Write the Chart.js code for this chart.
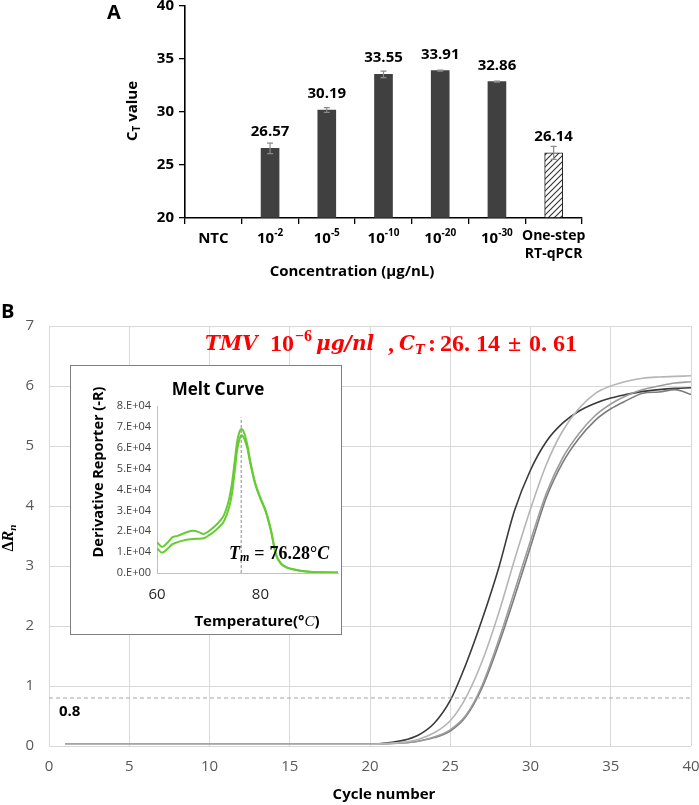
<!DOCTYPE html>
<html><head><meta charset="utf-8">
<script src="https://cdn.jsdelivr.net/npm/chart.js@4.4.0/dist/chart.umd.min.js"></script>
<style>
html,body{margin:0;padding:0;background:#fff;}
body{width:699px;height:805px;position:relative;overflow:hidden;}
#wrapA{position:absolute;left:0;top:-20px;width:699px;height:320px;}
#wrapB{position:absolute;left:0;top:300px;width:699px;height:505px;}
#wrapM{position:absolute;left:70px;top:365px;width:270px;height:268px;border:1.5px solid #7f7f7f;background:#fff;}
</style></head><body>
<div id="wrapA"><canvas id="cA"></canvas></div>
<div id="wrapB"><canvas id="cB"></canvas></div>
<div id="wrapM"><canvas id="cM"></canvas></div>
<script>
// ---------- DATA ----------
// Panel A
const categories = ['NTC', '10⁻²', '10⁻⁵', '10⁻¹⁰', '10⁻²⁰', '10⁻³⁰', 'One-step RT-qPCR'];
const catBase  = ['NTC', '10', '10', '10', '10', '10', 'One-step'];
const catSup   = ['', '-2', '-5', '-10', '-20', '-30', ''];
const catLine2 = ['', '', '', '', '', '', 'RT-qPCR'];
const ctValues = [null, 26.57, 30.19, 33.55, 33.91, 32.86, 26.14];
const ctErrors = [0, 0.5, 0.22, 0.3, 0.05, 0.05, 0.61];
const yMinA = 20, yMaxA = 40, yStepA = 5;

// Panel B (amplification)
const cycles = [1,2,3,4,5,6,7,8,9,10,11,12,13,14,15,16,17,18,19,20,21,22,23,24,25,26,27,28,29,30,31,32,33,34,35,36,37,38,39,40];
const rnDark  = [0.03,0.03,0.03,0.03,0.03,0.03,0.03,0.03,0.03,0.03,0.03,0.03,0.03,0.03,0.03,0.03,0.03,0.03,0.03,0.03,0.05,0.09,0.18,0.38,0.76,1.38,2.12,2.95,3.92,4.60,5.08,5.38,5.58,5.71,5.80,5.86,5.91,5.94,5.96,5.97];
const rnLight = [0.03,0.03,0.03,0.03,0.03,0.03,0.03,0.03,0.03,0.03,0.03,0.03,0.03,0.03,0.03,0.03,0.03,0.03,0.03,0.03,0.04,0.06,0.11,0.22,0.42,0.82,1.42,2.20,3.10,3.95,4.70,5.25,5.62,5.87,6.00,6.08,6.13,6.15,6.16,6.17];
const rnMid   = [0.03,0.03,0.03,0.03,0.03,0.03,0.03,0.03,0.03,0.03,0.03,0.03,0.03,0.03,0.03,0.03,0.03,0.03,0.03,0.03,0.04,0.05,0.08,0.15,0.27,0.52,1.02,1.75,2.58,3.42,4.22,4.80,5.20,5.50,5.70,5.84,5.94,6.00,6.05,6.07];
const rnGray  = [0.03,0.03,0.03,0.03,0.03,0.03,0.03,0.03,0.03,0.03,0.03,0.03,0.03,0.03,0.03,0.03,0.03,0.03,0.03,0.03,0.04,0.05,0.08,0.14,0.25,0.50,0.98,1.68,2.48,3.32,4.15,4.72,5.12,5.42,5.62,5.76,5.88,5.90,5.94,5.86];
const thresholdValue = 0.8;
const xMinB = 0, xMaxB = 40, xStepB = 5, yMinB = 0, yMaxB = 7, yStepB = 1;

// Inset (melt curve)
const meltTemps = [60,61,62,63,64,65,66,67,68,69,70,71,72,73,74,74.5,75,75.5,76,76.3,76.6,77,77.5,78,79,80,81,82,83,84,85,86,88,90,92,95];
const meltUpper = [14700,12500,14500,17200,17800,18800,19800,20200,19700,18700,20000,22000,24500,28000,36000,43000,53000,63000,68000,69000,68500,66000,61000,54000,43000,36000,30000,21000,9000,4500,2800,2000,1000,500,300,200];
const meltLower = [11800,9700,11500,13800,14800,15500,16000,16300,16400,16600,18000,19800,22000,25000,32000,38000,48000,59000,64500,66000,65500,63500,59500,53000,42500,35500,29500,20500,8800,4400,2700,1900,1000,500,300,200];
const tmValue = 76.28;
const meltXMin = 60, meltXMax = 95, meltYMax = 80000;

// ---------- STYLE ----------
const FONT = "'Open Sans', sans-serif";
const MATH = "'Liberation Serif', serif";
const CMATH = "'DejaVu Serif', serif";
Chart.defaults.font.family = FONT;

function runsWidth(ctx, runs){ let w=0; for(const r of runs){ ctx.font=r.font; w+=ctx.measureText(r.t).width+(r.gap||0);} return w; }
function drawRuns(ctx, x, y, runs){ for(const r of runs){ ctx.font=r.font; ctx.fillStyle=r.color||'#000'; ctx.fillText(r.t, (r.x!==undefined? r.x : x), y+(r.dy||0)); x=(r.x!==undefined? r.x : x)+ctx.measureText(r.t).width+(r.gap||0);} return x; }
function drawRunsCentered(ctx, cx, y, runs){ const w=runsWidth(ctx,runs); ctx.textAlign='left'; drawRuns(ctx, cx-w/2, y, runs); }

// ---------- PANEL A ----------
const ctxA = document.getElementById('cA').getContext('2d');
function hatchPattern(){
  const c=document.createElement('canvas'); c.width=6; c.height=6;
  const g=c.getContext('2d'); g.fillStyle='#fff'; g.fillRect(0,0,6,6);
  g.strokeStyle='#333'; g.lineWidth=1.1; g.beginPath();
  g.moveTo(0,6); g.lineTo(6,0); g.moveTo(-1,1); g.lineTo(1,-1); g.moveTo(5,7); g.lineTo(7,5); g.stroke();
  return ctxA.createPattern(c,'repeat');
}
const hatch = hatchPattern();
const plugA = {
  id:'plugA',
  afterDatasetsDraw(chart){
    const {ctx, scales:{x,y}} = chart;
    ctx.save();
    ctValues.forEach((v,i)=>{
      if(v==null) return;
      const e=ctErrors[i], px=x.getPixelForValue(i);
      const t=y.getPixelForValue(v+e), b=y.getPixelForValue(v-e);
      ctx.strokeStyle='#8a8a8a'; ctx.lineWidth=1.2; ctx.beginPath();
      ctx.moveTo(px,t); ctx.lineTo(px,b);
      ctx.moveTo(px-3,t); ctx.lineTo(px+3,t);
      ctx.moveTo(px-3,b); ctx.lineTo(px+3,b); ctx.stroke();
      ctx.fillStyle='#000'; ctx.font='bold 15px '+FONT; ctx.textAlign='center'; ctx.textBaseline='alphabetic';
      ctx.fillText(v.toFixed(2), px, y.getPixelForValue(v)-12);
    });
    // category labels
    ctx.textBaseline='middle';
    const ly = y.bottom + 21;
    categories.forEach((c,i)=>{
      const px=x.getPixelForValue(i);
      if(catLine2[i]){
        ctx.font='bold 14px '+FONT; ctx.textAlign='center';
        ctx.fillText(catBase[i], px, ly-3); ctx.fillText(catLine2[i], px, ly+15);
      } else if(catSup[i]){
        drawRunsCentered(ctx, px, ly, [{t:catBase[i], font:'bold 15px '+FONT},{t:catSup[i], font:'bold 10px '+FONT, dy:-6}]);
      } else {
        ctx.font='bold 15px '+FONT; ctx.textAlign='center'; ctx.fillText(catBase[i], px, ly);
      }
    });
    // x title
    ctx.font='bold 15px '+FONT; ctx.textAlign='center'; ctx.textBaseline='middle';
    ctx.fillText('Concentration (μg/nL)', 352, y.bottom+54);
    // y title
    ctx.save(); ctx.translate(133, 131); ctx.rotate(-Math.PI/2); ctx.textBaseline='middle';
    drawRunsCentered(ctx, 0, 0, [{t:'C', font:'bold 15px '+FONT},{t:'T', font:'bold 10px '+FONT, dy:4},{t:' value', font:'bold 15px '+FONT}]);
    ctx.restore();
    // panel letter
    ctx.font='bold 20px '+FONT; ctx.textAlign='left'; ctx.textBaseline='middle';
    ctx.fillText('A', 107, 33);
    ctx.restore();
  }
};
new Chart(ctxA, {
  type:'bar',
  data:{ labels:categories, datasets:[{
    data:ctValues, base:yMinA,
    backgroundColor: ctValues.map((v,i)=> i===ctValues.length-1 ? hatch : '#404040'),
    borderColor: ctValues.map((v,i)=> i===ctValues.length-1 ? '#222' : '#404040'),
    borderWidth: ctValues.map((v,i)=> i===ctValues.length-1 ? 1 : 0),
    barThickness:18
  }]},
  options:{
    responsive:true, maintainAspectRatio:false, animation:false,
    layout:{padding:{left:125, right:117, top:26, bottom:22}},
    plugins:{legend:{display:false}, tooltip:{enabled:false}},
    scales:{
      x:{ grid:{drawOnChartArea:false, drawTicks:true, tickLength:6, color:'#000', lineWidth:1.3, offset:true},
          border:{color:'#000', width:1.6}, ticks:{display:false}, afterFit(s){ s.height=60; } },
      y:{ min:yMinA, max:yMaxA, ticks:{stepSize:yStepA, color:'#000', font:{size:15, weight:'bold'}, padding:5},
          grid:{drawOnChartArea:false, tickLength:6, color:'#000', lineWidth:1.3},
          border:{color:'#000', width:1.6}, afterFit(s){ s.width=60; } }
    }
  },
  plugins:[plugA]
});

// ---------- PANEL B ----------
const plugB = {
  id:'plugB',
  afterDraw(chart){
    const {ctx, chartArea, scales:{x,y}} = chart;
    ctx.save();
    ctx.fillStyle='#000'; ctx.textBaseline='middle';
    ctx.font='bold 20px '+FONT; ctx.textAlign='left'; ctx.fillText('B', 1, 12);
    // threshold label
    ctx.font='bold 15px '+FONT; ctx.fillText(String(thresholdValue), 59, y.getPixelForValue(thresholdValue)+14);
    // x title
    ctx.textAlign='center'; ctx.fillText('Cycle number', 384, 495);
    // y title
    ctx.save(); ctx.translate(9, 238); ctx.rotate(-Math.PI/2); ctx.textBaseline='middle';
    drawRunsCentered(ctx, 0, 0, [{t:'Δ', font:'bold 16px '+MATH},{t:'R', font:'bold italic 16px '+MATH},{t:'n', font:'bold italic 11px '+MATH, dy:4}]);
    ctx.restore();
    // red title
    const red='#ff0000', fi='bold italic 20px '+CMATH, fsi='bold italic 13px '+CMATH,
          fn='bold 24px '+MATH, fsn='bold 16px '+MATH;
    ctx.textAlign='left'; ctx.textBaseline='middle';
    drawRuns(ctx, 205, 45, [
      {t:'TMV', font:fi, color:red, x:205},
      {t:'10', font:fn, color:red, x:270},
      {t:'−6', font:fsn, color:red, dy:-8, x:295},
      {t:'μg/nl', font:fi, color:red, x:316},
      {t:',', font:fn, color:red, x:388},
      {t:'C', font:fi, color:red, x:399},
      {t:'T', font:fsi, color:red, dy:6, x:415},
      {t:':', font:fn, color:red, x:428},
      {t:'26.', font:fn, color:red, x:440},
      {t:'14', font:fn, color:red, x:476},
      {t:'±', font:fn, color:red, x:508},
      {t:'0.', font:fn, color:red, x:529},
      {t:'61', font:fn, color:red, x:553}
    ]);
    ctx.restore();
  }
};
const pts = arr => cycles.map((c,i)=>({x:c, y:arr[i]}));
const lineDS = (arr,color)=>({data:pts(arr), borderColor:color, borderWidth:1.6, pointRadius:0, fill:false, cubicInterpolationMode:'monotone'});
new Chart(document.getElementById('cB'), {
  type:'line',
  data:{ datasets:[
    {data:[{x:xMinB,y:thresholdValue},{x:xMaxB,y:thresholdValue}], borderColor:'#a6a6a6', borderWidth:1.2, borderDash:[4,3], pointRadius:0},
    lineDS(rnLight,'#b5b5b5'),
    lineDS(rnMid,'#9c9c9c'),
    lineDS(rnGray,'#7c7c7c'),
    lineDS(rnDark,'#3a3a3a')
  ]},
  options:{
    responsive:true, maintainAspectRatio:false, animation:false,
    layout:{padding:{left:0, right:8, top:26, bottom:0}},
    plugins:{legend:{display:false}, tooltip:{enabled:false}},
    scales:{
      x:{ type:'linear', min:xMinB, max:xMaxB, ticks:{stepSize:xStepB, color:'#595959', font:{size:15}, padding:12},
          grid:{color:'#d9d9d9', drawTicks:false}, border:{display:false},
          afterFit(s){ s.height=59; s.paddingRight=0; s.paddingLeft=0; } },
      y:{ min:yMinB, max:yMaxB, ticks:{stepSize:yStepB, color:'#595959', font:{size:15}, padding:15},
          grid:{color:'#d9d9d9', drawTicks:false}, border:{display:false}, afterFit(s){ s.width=49; } }
    }
  },
  plugins:[plugB]
});

// ---------- INSET ----------
const plugM = {
  id:'plugM',
  afterDraw(chart){
    const {ctx} = chart;
    ctx.save(); ctx.fillStyle='#000'; ctx.textBaseline='middle'; ctx.textAlign='center';
    ctx.font='bold 17px '+FONT; ctx.fillText('Melt Curve', 147, 24);
    ctx.save(); ctx.translate(28, 106); ctx.rotate(-Math.PI/2);
    ctx.font='bold 14.5px '+FONT; ctx.fillText('Derivative Reporter (-R)', 0, 0); ctx.restore();
    drawRunsCentered(ctx, 186, 256, [{t:'Temperature(°', font:'bold 15px '+FONT},{t:'C', font:'italic 15px '+MATH},{t:')', font:'bold 15px '+FONT}]);
    ctx.textAlign='left';
    drawRuns(ctx, 158, 188, [{t:'T', font:'bold italic 18px '+MATH},{t:'m', font:'bold italic 12px '+MATH, dy:4, gap:5},{t:'=', font:'bold 18px '+MATH, gap:5},{t:'76.28°', font:'bold 18px '+MATH},{t:'C', font:'bold italic 18px '+MATH}]);
    ctx.restore();
  }
};
const meltPts = arr => meltTemps.map((t,i)=>({x:t, y:arr[i]}));
new Chart(document.getElementById('cM'), {
  type:'line',
  data:{ datasets:[
    {data:[{x:tmValue,y:0},{x:tmValue,y:74500}], borderColor:'#8c8c8c', borderWidth:1, borderDash:[3,2], pointRadius:0},
    {data:meltPts(meltUpper), borderColor:'#66cc33', borderWidth:2, pointRadius:0, cubicInterpolationMode:'monotone'},
    {data:meltPts(meltLower), borderColor:'#66cc33', borderWidth:2, pointRadius:0, cubicInterpolationMode:'monotone'}
  ]},
  options:{
    responsive:true, maintainAspectRatio:false, animation:false,
    layout:{padding:{left:0, right:3, top:40, bottom:0}},
    plugins:{legend:{display:false}, tooltip:{enabled:false}},
    scales:{
      x:{ type:'linear', min:meltXMin, max:meltXMax, ticks:{stepSize:20, includeBounds:false, color:'#262626', font:{size:15}, padding:13},
          grid:{display:false, drawTicks:false}, border:{color:'#c0c0c0', width:1}, afterFit(s){ s.height=61; } },
      y:{ min:0, max:meltYMax, ticks:{stepSize:10000, color:'#404040', font:{size:11}, padding:6,
          callback:v=> v===0 ? '0.E+00' : (v/10000)+'.E+04'},
          grid:{display:false, drawTicks:false}, border:{color:'#c0c0c0', width:1}, afterFit(s){ s.width=86; } }
    }
  },
  plugins:[plugM]
});
</script>
</body></html>
